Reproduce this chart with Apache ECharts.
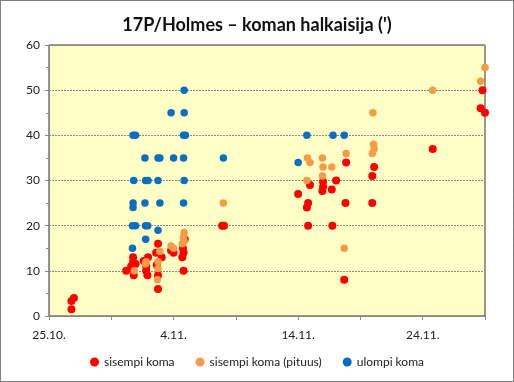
<!DOCTYPE html>
<html><head><meta charset="utf-8">
<script src="https://cdn.jsdelivr.net/npm/echarts@6/dist/echarts.min.js"></script>
<style>html,body{margin:0;padding:0;background:#fff}#c{width:514px;height:382px}</style>
</head><body><div id="c"></div>
<script>
// x = days since 25.10.
const xTickLabels = ['25.10.', '4.11.', '14.11.', '24.11.'];
const seriesNames = ['sisempi koma', 'sisempi koma (pituus)', 'ulompi koma'];
const innerComa = [
  [1.8,1.5],[1.8,3.3],[2.0,4],
  [6.2,10],[6.75,13],[6.75,12],[6.95,11.5],[6.6,11],[6.8,9],[6.6,10.5],
  [7.6,12.2],[7.95,13],[7.8,11],[7.8,10],[7.9,9],
  [8.75,16],[8.6,14],[9.05,13],[8.65,11.3],[8.75,9],[8.75,6],
  [9.8,14.5],[10.0,14],
  [10.9,17],[10.75,15],[10.8,14],[10.7,13],[10.8,10],
  [13.9,20],[14.05,20],
  [20.0,27],[20.95,29],[20.8,25],[20.7,24],[20.8,20],[22.0,29.7],[22.0,28.6],[21.95,27.7],
  [22.7,28],[23.05,30],[22.75,20],[23.85,34],[23.8,25],[23.7,8],
  [26.1,33],[25.95,31],[25.95,25],
  [30.8,37],[34.8,50],[34.65,46],[35.0,45]
];
const innerComaLength = [
  [6.85,10],
  [7.8,12],[7.75,11.5],
  [8.9,14.3],[8.75,12],[8.75,10.5],[8.7,8],
  [9.8,15.5],[10.0,15],
  [10.85,18.5],[10.8,17.5],[10.7,16],[10.85,16.5],
  [14.0,25],
  [20.75,35],[20.95,34],[20.7,30],[21.95,35],[22.0,33],[22.7,33],[21.95,31],[23.85,36],[23.7,15],
  [26.0,45],[26.05,38],[26.1,37],[25.95,36],
  [30.8,50],[35.0,55],[34.65,52]
];
const outerComa = [
  [6.7,15],[6.7,20],[6.95,20],[6.75,24],[6.75,25],[6.8,30],[6.75,40],[6.95,40],
  [7.7,35],[7.7,25],[7.75,30],[7.95,30],[7.75,20],[7.92,20],[7.76,17],
  [8.75,35],[8.9,35],[8.75,30],[8.9,25],[8.75,19],
  [9.8,45],[10.0,35],
  [10.8,25],[10.8,35],[10.8,40],[10.95,40],[10.85,30],[10.85,45],[10.85,50],
  [14.0,35],
  [20.0,34],[20.7,40],[22.8,40],[23.7,40]
];
const colors = ['#FF0000', '#F79A4A', '#0A6FC2'];
const font = 'Lato, "Open Sans", sans-serif';

const chart = echarts.init(document.getElementById('c'), null, {renderer: 'canvas'});
const mk = (name, data, color, size) => ({
  name, type: 'scatter', data, symbol: 'circle', symbolSize: size,
  itemStyle: {color, opacity: 1}, emphasis: {disabled: true}
});
chart.setOption({
  animation: false,
  textStyle: {fontFamily: font},
  title: {
    text: "17P/Holmes – koman halkaisija (')", left: 'center', top: 11,
    textStyle: {fontFamily: font, fontWeight: 'bold', fontSize: 18, color: '#111'}
  },
  grid: {left: 49, right: 29, top: 45, bottom: 66, show: true,
    backgroundColor: '#FFFFC6', borderColor: '#333', borderWidth: 1},
  xAxis: {
    type: 'value', min: 0, max: 35, interval: 5,
    axisLine: {lineStyle: {color: '#888'}},
    axisTick: {show: true, length: 4, lineStyle: {color: '#888'}},
    splitLine: {show: false},
    axisLabel: {color: '#222', fontSize: 12, margin: 13,
      formatter: v => (v % 10 === 0 ? xTickLabels[v / 10] : '')}
  },
  yAxis: {
    type: 'value', min: 0, max: 60, interval: 10,
    axisLine: {show: true, lineStyle: {color: '#888'}},
    axisTick: {show: true, length: 4, lineStyle: {color: '#888'}},
    minorTick: {show: true, splitNumber: 2, length: 3, lineStyle: {color: '#888'}},
    splitLine: {show: true, lineStyle: {color: '#8a8a8a', type: [2, 1]}},
    axisLabel: {color: '#222', fontSize: 12, margin: 9}
  },
  legend: {
    bottom: 9, left: 'center', icon: 'circle', itemWidth: 9, itemHeight: 9, itemGap: 21,
    textStyle: {fontFamily: font, fontSize: 12, color: '#222'},
    data: seriesNames
  },
  series: [
    mk(seriesNames[0], innerComa, colors[0], 8),
    mk(seriesNames[1], innerComaLength, colors[1], 7.5),
    mk(seriesNames[2], outerComa, colors[2], 7.5)
  ],
  graphic: [{type: 'rect', shape: {x: 0.5, y: 0.5, width: 513, height: 381},
    style: {fill: null, stroke: '#000', lineWidth: 1, lineDash: [1, 1]}, silent: true}]
});
</script></body></html>
